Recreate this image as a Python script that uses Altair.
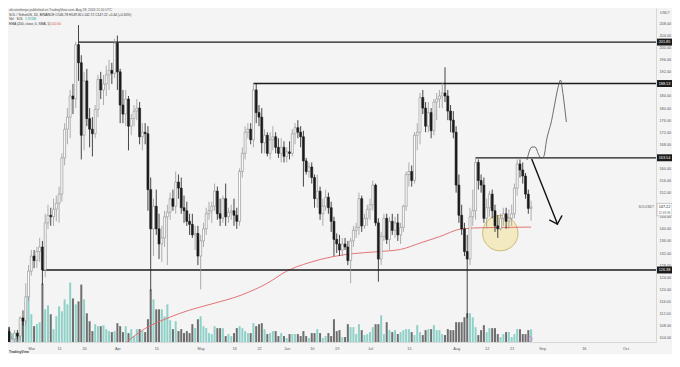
import altair as alt
import pandas as pd

# ---------------- data ----------------
FIRST_DAY = "2024-02-22"

opens = [106, 102, 103.5, 105.5, 104.5, 110.5, 109.5, 117.5,
         126, 131, 129.5, 132.5, 134, 126.4, 142, 144.5, 144, 146.5,
         148.5, 151.5, 163.5, 173, 177, 184, 183, 201, 195, 171,
         189, 176.5, 173, 171.5, 179.5, 189.5, 186, 188, 191, 192.5, 191.5,
         201.5, 192, 181, 178, 183, 174, 176.5, 179, 180, 170.5,
         172, 171.5, 153, 140, 147.5, 140, 135, 137, 144, 145.5,
         150, 147.5, 155.5, 153.5, 147, 146, 142.5, 141.5, 138, 138.5,
         131, 136, 140, 145, 146, 147.5, 152.5, 145, 143.5, 150,
         144, 145.5, 146, 144.5, 142.5, 159, 165, 172, 173, 169.5,
         186, 178.5, 177, 168.5, 171, 165, 169.5, 170.5, 167, 165, 167,
         164, 165.5, 165, 171.5, 173.5, 172, 170.5, 162.5, 159, 160.5,
         157, 150, 152.5, 145, 147.5, 150.5, 147, 142.5, 136.5, 135,
         133, 135, 134, 129.5, 136, 139.5, 140.5, 150, 141, 143.5,
         146.5, 148, 154.5, 142, 130, 137.5, 143.5, 136.5, 142.5, 139.5,
         142, 138, 140.5, 147.5, 158, 159, 156, 171, 172, 183.5,
         180, 174, 178.5, 172.5, 182, 183, 184, 185, 184, 179, 176,
         172, 154.5, 144.5, 140, 132.5, 130, 144, 146, 162, 156,
         154.5, 143.5, 147, 151.5, 146, 141, 140, 143.5, 145, 142.5,
         143.5, 145, 153.5, 161.5, 159.5, 157.5, 151.5, 146.78]

highs = [107, 104.5, 106.5, 106.5, 111, 113, 122, 128,
         133, 133, 134, 137, 136, 145, 148, 147, 150, 151,
         154, 165, 175, 180, 186, 188, 202, 207.5, 197.5, 192,
         193, 180, 177, 181, 191, 192, 191, 194, 196, 195, 203,
         204, 193, 186, 186, 184, 178, 181, 183, 182, 175,
         175, 174, 157, 150, 153, 145, 141, 146, 148, 152,
         153, 159, 158, 157, 151, 149, 145, 145, 141, 141,
         138, 142, 147, 149, 149, 155, 154, 150, 151, 155,
         147, 148, 150, 147, 160, 167, 174, 175, 175, 188.1,
         188, 181, 180, 173, 172, 172, 174, 172, 170, 170, 169,
         167, 169, 173, 175, 176, 174, 172.5, 163.5, 162, 162,
         158, 158, 154, 150, 153, 152, 149, 144, 138.5, 138,
         137, 137, 136, 137, 141, 142, 152, 151, 145, 148,
         150, 156, 155, 143.5, 139, 145, 145, 144, 145, 144,
         145, 142, 148, 159, 162, 161, 172, 175, 185, 186,
         182, 182, 180, 183, 185, 186, 188.5, 193.5, 186, 181, 179,
         174, 158, 148, 142, 138, 147, 153, 163.5, 163, 158,
         157, 150, 152.5, 153, 148, 144.5, 145, 147, 147, 146.5,
         148, 155, 163, 163, 162, 158.5, 153, 149.3]

lows = [100.5, 101, 102.5, 103.5, 103, 108, 108, 116,
        124.5, 127, 127, 129, 121.5, 124, 140, 141, 141, 142.5,
        142, 149, 161, 168, 170, 178, 180, 189, 163, 166,
        174, 167, 164, 170, 177, 183, 181, 184, 186, 188, 190,
        186, 175, 175, 174, 166, 171, 174, 176, 168, 166,
        168, 146, 119.5, 131, 138, 130, 129, 134, 128, 143,
        146, 145, 150, 145, 142, 141, 138, 137, 133, 128,
        120, 134, 138, 143, 142, 146, 143, 141, 142, 141,
        142, 143, 141, 140, 141, 157, 163, 170, 168, 167,
        175, 174, 165, 165, 164, 163, 166, 165, 163.5, 162, 162,
        162, 163, 164, 168, 170, 167, 154, 158, 157, 155,
        147, 147, 143, 141, 146, 145, 139, 131, 132, 131,
        131, 133, 128, 122, 134, 137, 138, 139, 140, 141,
        143, 146, 141, 122.5, 128, 136, 135, 133, 138, 137,
        136, 135, 139, 146, 154, 154, 155, 166, 168, 178,
        172, 172, 170, 171, 176, 180, 180, 182, 176, 172, 170,
        152, 142, 138, 131, 110.5, 128, 141, 143, 153, 152,
        142, 140, 144, 143.5, 139, 137, 139.5, 141, 140, 140,
        141, 143.5, 151, 157, 155, 150, 145, 142.72]

closes = [102, 103.5, 105.5, 104.5, 110.5, 109.5, 117.5, 126,
          131, 129.5, 132.5, 134, 126.4, 142, 144.5, 144, 146.5, 148.5,
          151.5, 163.5, 173, 177, 184, 183, 201, 195, 171, 189,
          176.5, 173, 171.5, 179.5, 189.5, 186, 188, 191, 192.5, 191.5, 201.5,
          192, 181, 178, 183, 174, 176.5, 179, 180, 170.5, 172,
          171.5, 153, 140, 147.5, 140, 135, 137, 144, 145.5, 150,
          147.5, 155.5, 153.5, 147, 146, 142.5, 141.5, 138, 138.5, 131,
          136, 140, 145, 146, 147.5, 152.5, 145, 143.5, 150, 144,
          145.5, 146, 144.5, 142.5, 159, 165, 172, 173, 169.5, 186,
          178.5, 177, 168.5, 171, 165, 169.5, 170.5, 167, 165, 167, 164,
          165.5, 165, 171.5, 173.5, 172, 170.5, 162.5, 159, 160.5, 157,
          150, 152.5, 145, 147.5, 150.5, 147, 142.5, 136.5, 135, 133,
          135, 134, 129.5, 136, 139.5, 140.5, 150, 141, 143.5, 146.5,
          148, 154.5, 142, 130, 137.5, 143.5, 136.5, 142.5, 139.5, 142,
          138, 140.5, 147.5, 158, 159, 156, 171, 172, 183.5, 180,
          174, 178.5, 172.5, 182, 183, 184, 185, 184, 179, 176, 172,
          154.5, 144.5, 140, 132.5, 130, 144, 146, 162, 156, 154.5,
          143.5, 147, 151.5, 146, 141, 140, 143.5, 145, 142.5, 143.5,
          145, 153.5, 161.5, 159.5, 157.5, 151.5, 146.78, 147.22]

volumes_m = [2.3, 1.35, 1.2, 1.2, 2.7, 3.3, 6.0, 6.9,
             4.2, 2.4, 2.7, 3.0, 8.85, 4.95, 5.55, 4.2, 1.95, 3.9,
             5.4, 4.65, 6.45, 5.7, 9.0, 6.6, 5.7, 6.15, 8.7, 6.45,
             4.35, 3.15, 1.65, 2.7, 2.4, 2.4, 2.55, 1.95, 1.65, 1.5, 1.65,
             2.85, 2.4, 1.5, 2.4, 1.35, 1.95, 0.9, 1.95, 1.95, 1.65,
             1.5, 3.45, 7.95, 6.45, 4.95, 4.95, 4.95, 3.9, 5.7, 3.3,
             1.95, 3.15, 1.65, 1.95, 1.35, 1.65, 1.35, 2.7, 2.1, 3.45,
             3.9, 2.4, 2.1, 1.35, 1.2, 2.4, 2.1, 2.1, 2.1, 0.9,
             1.2, 0.9, 1.35, 2.1, 2.4, 2.1, 1.65, 1.35, 1.35, 2.85,
             2.4, 2.7, 2.85, 1.95, 1.2, 1.35, 1.65, 1.65, 0.9, 1.35, 0.9,
             0.6, 1.2, 1.2, 1.2, 1.2, 0.9, 1.65, 0.9, 0.6, 1.35,
             1.35, 1.95, 1.35, 0.6, 0.9, 1.35, 0.9, 3.45, 1.65, 1.8,
             0.75, 0.75, 2.7, 2.25, 2.25, 1.2, 2.7, 1.8, 1.05, 1.2,
             1.5, 2.25, 2.7, 2.7, 4.05, 1.2, 3.0, 1.8, 1.5, 1.8,
             1.2, 1.5, 1.8, 1.95, 1.95, 1.5, 1.05, 2.55, 1.5, 1.05,
             1.8, 1.95, 1.95, 2.55, 1.8, 1.8, 1.2, 1.05, 1.95, 1.8, 1.8,
             3.0, 3.0, 3.0, 3.75, 4.35, 4.35, 3.75, 2.25, 1.05, 1.8,
             2.55, 1.5, 2.1, 2.1, 2.1, 1.2, 0.75, 1.2, 1.5, 1.5,
             0.75, 1.2, 1.95, 1.95, 1.2, 1.2, 1.8, 1.925]

level_start = ["2024-03-18", "2024-05-20", "2024-08-08", "2024-03-05"]
level_price = [201.85, 188.13, 163.54, 126.38]

ema_dates = ["2024-04-01", "2024-04-11", "2024-04-20", "2024-04-27", "2024-05-04",
             "2024-05-16", "2024-05-25", "2024-06-01", "2024-06-09", "2024-06-17",
             "2024-06-25", "2024-07-03", "2024-07-12", "2024-07-19", "2024-07-26",
             "2024-08-03", "2024-08-11", "2024-08-20", "2024-08-28"]
ema_values = [100.0, 107.0, 110.8, 113.1, 114.9, 118.2, 122.0, 126.0, 128.8, 130.7,
              131.8, 132.4, 133.2, 135.3, 137.4, 140.0, 140.4, 140.5, 140.6]

path_times = ["2024-08-26T12:00", "2024-08-28T07:00", "2024-08-29T10:00", "2024-08-30T19:00",
              "2024-08-31T14:00", "2024-09-01T14:00", "2024-09-02T14:00", "2024-09-04T10:00",
              "2024-09-05T19:00", "2024-09-06T22:00", "2024-09-07T14:00", "2024-09-08T07:00",
              "2024-09-09T00:00", "2024-09-09T17:00"]
path_prices = [162.8, 167.1, 167.1, 164.5, 163.4, 164.0, 169.4, 176.0,
               182.7, 187.6, 189.3, 186.0, 181.0, 175.4]

arrow_from_t = ["2024-08-28T07:00", "2024-09-06T12:00", "2024-09-06T12:00"]
arrow_from_p = [163.0, 141.6, 141.6]
arrow_to_t = ["2024-09-06T12:00", "2024-09-03T17:00", "2024-09-08T02:00"]
arrow_to_p = [141.6, 142.9, 144.3]

zone_time = ["2024-08-16T22:00"]
zone_price = [138.6]

last_price = 147.22
event_time = ["2024-08-27T14:00"]

time_tick_dates = ["2024-03-01", "2024-03-11", "2024-03-20", "2024-04-01", "2024-04-15",
                   "2024-05-01", "2024-05-13", "2024-05-22", "2024-06-01", "2024-06-10",
                   "2024-06-19", "2024-07-01", "2024-07-15", "2024-08-01", "2024-08-12",
                   "2024-08-21", "2024-09-01", "2024-09-16", "2024-10-01"]
price_ticks = [208, 204, 200, 196, 192, 184, 180, 176, 172, 168, 160, 156, 152,
               144, 140, 136, 132, 128, 124, 120, 116, 112, 108, 104]

# ---------------- layout / style ----------------
FONT = "Liberation Sans"
BG = "#f4f4f4"
DAY_MS = 86_400_000
W, H = 648, 334


def ms(s):
    return int(pd.Timestamp(s, tz="UTC").value // 1_000_000)


X0 = ms("2024-03-01") - 6.596 * DAY_MS
X1 = ms("2024-03-01") + 223.19 * DAY_MS
Y_LO, Y_HI = 102.54, 213.135
VOL_HI = 50.6

X_SCALE = alt.Scale(type="utc", domain=[X0, X1])
Y_SCALE = alt.Scale(domain=[Y_LO, Y_HI], zero=False, nice=False)

x_axis = alt.Axis(
    values=[ms(d) for d in time_tick_dates],
    labelExpr="utcdate(datum.value) == 1 ? utcFormat(datum.value, '%b') : '' + utcdate(datum.value)",
    labelFontSize=3.8, labelColor="#555555", labelFont=FONT, ticks=False,
    domainColor="#cfcfcf", domainWidth=0.8, labelPadding=4.5,
    labelOverlap=False, labelFlush=False, grid=False, title=None)
y_axis = alt.Axis(
    orient="right", values=price_ticks, format=".2f",
    labelFontSize=3.8, labelColor="#555555", labelFont=FONT, ticks=False,
    domainColor="#cfcfcf", domainWidth=0.8, labelPadding=3, labelAlign="left",
    labelOverlap=False, labelFlush=False, grid=False, title=None)


def X(field):
    return alt.X(f"{field}:T", scale=X_SCALE, axis=x_axis, title=None)


def Y(field):
    return alt.Y(f"{field}:Q", scale=Y_SCALE, axis=y_axis, title=None)


UP = "datum.c >= datum.o"

# ---------------- tables ----------------
days = pd.date_range(FIRST_DAY, periods=len(closes), freq="D", tz="UTC")
candles = pd.DataFrame({"t": days.asi8 // 1_000_000, "o": opens, "h": highs,
                        "l": lows, "c": closes, "v": volumes_m})
levels = pd.DataFrame({"t": [ms(d) for d in level_start], "p": level_price})
ema = pd.DataFrame({"t": [ms(d) for d in ema_dates], "p": ema_values})
path = pd.DataFrame({"t": [ms(d) for d in path_times], "p": path_prices,
                     "i": list(range(len(path_times)))})
arrow = pd.DataFrame({"t1": [ms(d) for d in arrow_from_t], "p1": arrow_from_p,
                      "t2": [ms(d) for d in arrow_to_t], "p2": arrow_to_p})
zone = pd.DataFrame({"t": [ms(d) for d in zone_time], "p": zone_price})
lastp = pd.DataFrame({"p": [last_price]})
event = pd.DataFrame({"t": [ms(d) for d in event_time]})

# ---------------- layers ----------------
vol = alt.Chart(candles).mark_bar(size=2, clip=True).encode(
    x=X("t"),
    y=alt.Y("v:Q", scale=alt.Scale(domain=[0, VOL_HI], nice=False), axis=None),
    color=alt.condition(UP, alt.value("#8fd1c8"), alt.value("#6e6e6e")))

zone_l = alt.Chart(zone).mark_circle(size=1257, fill="#f2e2a0", fillOpacity=0.6,
                                     stroke="#c2ac5c", strokeWidth=0.8).encode(x=X("t"), y=Y("p"))

ema_l = alt.Chart(ema).mark_line(color="#e06666", strokeWidth=0.9, clip=True,
                                 interpolate="monotone").encode(x=X("t"), y=Y("p"))

level_l = alt.Chart(levels).mark_rule(color="#1b1b1b", strokeWidth=1.3).encode(
    x=X("t"), x2=alt.value(W), y=Y("p"))

wick = alt.Chart(candles).mark_rule(strokeWidth=0.8, clip=True).encode(
    x=X("t"), y=Y("l"), y2="h:Q",
    color=alt.condition(UP, alt.value("#9a9a9a"), alt.value("#1b1b1b")))

body = alt.Chart(candles).mark_bar(size=2, strokeWidth=0.6, clip=True).encode(
    x=X("t"), y=Y("o"), y2="c:Q",
    fill=alt.condition(UP, alt.value("#ffffff"), alt.value("#1b1b1b")),
    stroke=alt.condition(UP, alt.value("#8a8a8a"), alt.value("#1b1b1b")))

path_l = alt.Chart(path).mark_line(color="#4a4a4a", strokeWidth=0.8,
                                   interpolate="monotone").encode(
    x=X("t"), y=Y("p"), order="i:Q")

arrow_l = alt.Chart(arrow).mark_rule(color="#111111", strokeWidth=1.4, strokeCap="round").encode(
    x=X("t1"), x2="t2:T", y=Y("p1"), y2="p2:Q")

box = alt.Chart(levels).transform_calculate(
    hi="datum.p + 1.15", lo="datum.p - 1.15").mark_rect(color="#1b1b1b").encode(
    x=alt.value(649), x2=alt.value(664), y=Y("hi"), y2="lo:Q")
box_text = alt.Chart(levels).mark_text(color="white", fontSize=3.8, font=FONT,
                                       align="center", baseline="middle").encode(
    x=alt.value(656.5), y=Y("p"), text=alt.Text("p:Q", format=".2f"))

lp_box = alt.Chart(lastp).transform_calculate(
    hi="datum.p + 1.2", lo="datum.p - 2.9").mark_rect(
    fill="#ffffff", stroke="#9a9a9a", strokeWidth=0.5).encode(
    x=alt.value(649), x2=alt.value(664), y=Y("hi"), y2="lo:Q")
lp_text = alt.Chart(lastp).mark_text(color="#222222", fontSize=3.8, font=FONT,
                                     align="center", baseline="middle").encode(
    x=alt.value(656.5), y=Y("p"), text=alt.Text("p:Q", format=".2f"))
lp_cd = alt.Chart(lastp).transform_calculate(q="datum.p - 1.75", s="'12:49:36'").mark_text(
    color="#666666", fontSize=3.0, font=FONT, align="center", baseline="middle").encode(
    x=alt.value(656.5), y=Y("q"), text="s:N")
sym = alt.Chart(lastp).transform_calculate(s="'SOLUSDT'").mark_text(
    color="#555555", fontSize=3.3, font=FONT, align="right", baseline="middle").encode(
    x=alt.value(646), y=Y("p"), text="s:N")

event_l = alt.Chart(event).mark_point(shape="circle", size=22, color="#d36ad6",
                                      strokeWidth=0.8, filled=False).encode(
    x=X("t"), y=alt.value(331))


def label(text, x, y, color="#333333", size=3.3, align="left", weight="normal"):
    return alt.Chart(pd.DataFrame({"s": [text]})).mark_text(
        align=align, baseline="middle", fontSize=size, font=FONT,
        color=color, fontWeight=weight).encode(x=alt.value(x), y=alt.value(y), text="s:N")


texts = [
    label("altcoinsherpa published on TradingView.com, Aug 28, 2024 11:10 UTC", 1, 1.9, "#555555"),
    label("SOL / TetherUS, 1D, BINANCE  O146.78  H149.30  L142.72  C147.22  +0.44 (+0.30%)", 1, 6.6),
    label("Vol \u00b7 SOL", 1, 11.3),
    label("1.925M", 17, 11.3, "#26a69a"),
    label("EMA (200, close, 0, SMA, 5)", 1, 16.0),
    label("140.60", 43, 16.0, "#e05555"),
    label("USDT", 657, 5, "#555555", 3.6, "center"),
    label("TradingView", 1, 344.2, "#444444", 3.4, "left", "bold"),
]

price_group = alt.layer(zone_l, ema_l, level_l, wick, body, path_l, arrow_l,
                        box, box_text, lp_box, lp_text, lp_cd, sym, event_l, *texts)

chart = alt.layer(vol, price_group).resolve_scale(y="independent").properties(
    width=W, height=H,
    padding={"left": 0, "top": 0, "right": 16, "bottom": 12},
    autosize=alt.AutoSizeParams(type="none"),
    background=BG,
).configure_view(stroke=None, fill=BG)

chart.save("out.html", embed_options={"renderer": "svg", "actions": False})
